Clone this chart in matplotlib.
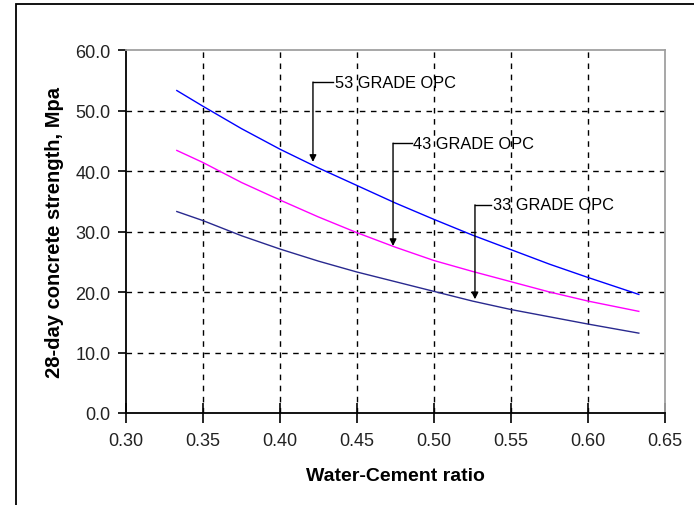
import matplotlib
matplotlib.use("Agg")
import matplotlib.pyplot as plt
from matplotlib.patches import Rectangle

# water-cement ratio vs 28-day strength
wc_ratio = [0.333, 0.35, 0.375, 0.40, 0.425, 0.45, 0.475, 0.50, 0.525, 0.55, 0.575, 0.60, 0.633]
grade_53 = [53.3, 50.7, 47.0, 43.6, 40.5, 37.6, 34.7, 32.0, 29.4, 27.0, 24.6, 22.4, 19.6]
grade_43 = [43.4, 41.4, 38.1, 35.2, 32.4, 29.8, 27.4, 25.2, 23.4, 21.7, 20.0, 18.5, 16.8]
grade_33 = [33.3, 31.8, 29.3, 27.1, 25.1, 23.3, 21.7, 20.1, 18.5, 17.1, 15.9, 14.7, 13.2]

labels = ["53 GRADE OPC", "43 GRADE OPC", "33 GRADE OPC"]
colors = ["#0000ff", "#ff00ff", "#29298f"]
# callout: corner x, text y, arrow tip y, text start x
call_x = [0.4214, 0.4734, 0.5266]
call_text_y = [54.7, 44.6, 34.4]
call_tip_y = [41.5, 27.6, 18.8]
call_text_x = [0.4357, 0.4864, 0.5383]

x_ticks = [0.30, 0.35, 0.40, 0.45, 0.50, 0.55, 0.60, 0.65]
y_ticks = [0.0, 10.0, 20.0, 30.0, 40.0, 50.0, 60.0]

plt.rcParams['font.family'] = ['Liberation Sans', 'DejaVu Sans']

fig = plt.figure(figsize=(6.94, 5.06), dpi=100)
ax = fig.add_axes([126 / 694, 92 / 506, 539 / 694, 363 / 506])

# outer chart frame (cut off at right and bottom)
fig.patches.append(Rectangle((16 / 694, -0.1), 1.2, (501 / 506) + 0.1,
                             transform=fig.transFigure, fill=False,
                             edgecolor="black", linewidth=1.3))

for ys, c in zip([grade_53, grade_43, grade_33], colors):
    ax.plot(wc_ratio, ys, color=c, linewidth=1.0, zorder=3)

for lab, cx, ty, tip, tx in zip(labels, call_x, call_text_y, call_tip_y, call_text_x):
    ax.plot([cx, tx - 0.001], [ty, ty], color="black", linewidth=1.0, zorder=4)
    ax.annotate("", xy=(cx, tip), xytext=(cx, ty),
                arrowprops=dict(arrowstyle="-|>", color="black", lw=1.0,
                                mutation_scale=10, shrinkA=0, shrinkB=0), zorder=4)
    ax.text(tx, ty, lab, fontsize=11.8, va="center", ha="left", zorder=4)

ax.set_xlim(0.30, 0.65)
ax.set_ylim(0, 60)
ax.set_xticks(x_ticks)
ax.set_yticks(y_ticks)
ax.set_xticklabels([f"{v:.2f}" for v in x_ticks])
ax.set_yticklabels([f"{v:.1f}" for v in y_ticks])
ax.tick_params(axis="x", direction="inout", length=14, width=1.2, labelsize=13, pad=7,
               labelcolor="#222222")
ax.tick_params(axis="y", direction="out", length=6, width=1.2, labelsize=13, pad=5,
               labelcolor="#222222")

ax.grid(True, color="black", linestyle=(0, (4, 4)), linewidth=1.0)
ax.set_axisbelow(True)
# no dashed lines on the plot border
xg = ax.xaxis.get_gridlines()
xg[0].set_visible(False)
xg[-1].set_visible(False)
yg = ax.yaxis.get_gridlines()
yg[0].set_visible(False)
yg[-1].set_visible(False)

for side in ["left", "bottom"]:
    ax.spines[side].set_color("black")
    ax.spines[side].set_linewidth(1.3)
for side in ["top", "right"]:
    ax.spines[side].set_color("#a0a0a0")
    ax.spines[side].set_linewidth(1.3)

ax.set_xlabel("Water-Cement ratio", fontsize=14, fontweight="bold", labelpad=13)
ax.set_ylabel("28-day concrete strength, Mpa", fontsize=14.5, fontweight="bold", labelpad=8)

fig.savefig("out.png", dpi=100)
